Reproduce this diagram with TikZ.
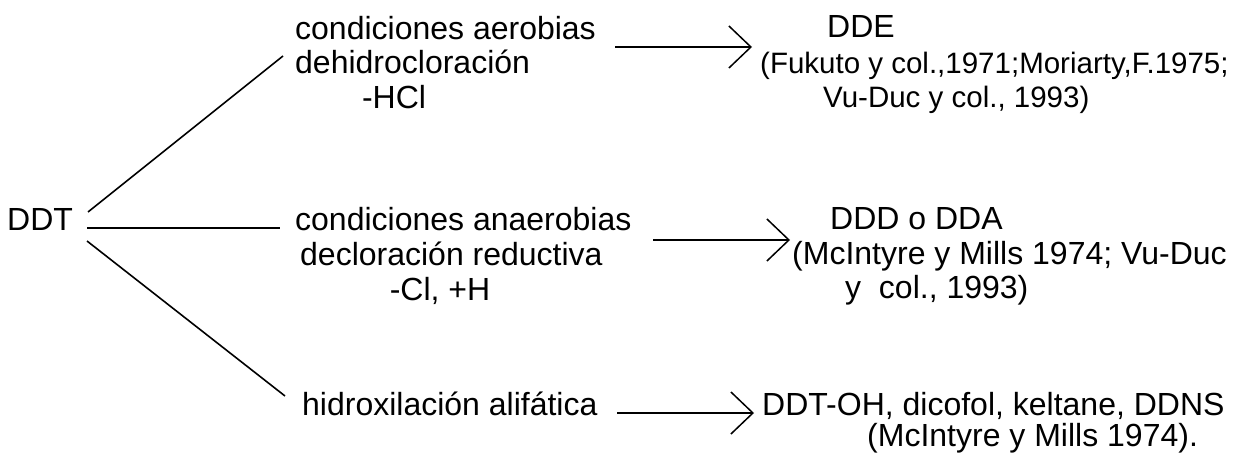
\documentclass[tikz,border=0pt]{standalone}
\usepackage{fontspec}
\setmainfont{Liberation Sans}
\usetikzlibrary{arrows.meta}
\begin{document}
\begin{tikzpicture}[x=1pt,y=-1pt,
  txt/.style={inner sep=0pt,font=\fontsize{32}{32}\selectfont},
  cit/.style={inner sep=0pt,font=\fontsize{29.5}{30}\selectfont},
  branch/.style={line width=1.6pt},
  reac/.style={line width=1.7pt,-{Straight Barb[length=22pt,width=42pt,line width=1.5pt]}}]
\useasboundingbox (0,0) rectangle (1246,457);
% source
\node[txt,anchor=base west] (ddt) at (7,230) {DDT};
\coordinate (s1) at (88,212);
\coordinate (s2) at (87,228);
\coordinate (s3) at (87,241);
% aerobic
\node[txt,anchor=base west] (a1) at (295,40) {condiciones aerobias};
\node[txt,anchor=base west] (a2) at (295,74) {dehidrocloración};
\node[txt,anchor=base] (a3) at (394,109) {-HCl};
\coordinate (e1) at (283,56);
\draw[branch] (s1) -- (e1);
\coordinate (r1a) at (615,47);
\coordinate (r1b) at (752,47);
\draw[reac] (r1a) -- (r1b);
\node[txt,anchor=base] (p1) at (861,38) {DDE};
\node[cit,anchor=base west] (c1a) at (760,74) {(Fukuto y col.,1971;Moriarty,F.1975;};
\node[cit,anchor=base west] (c1b) at (823,108) {Vu-Duc y col., 1993)};
% anaerobic
\node[txt,anchor=base west] (b1) at (295,230) {condiciones anaerobias};
\node[txt,anchor=base west] (b2) at (300,265) {decloración reductiva};
\node[txt,anchor=base] (b3) at (440,300) {-Cl, +H};
\coordinate (e2) at (280,228);
\draw[branch] (s2) -- (e2);
\coordinate (r2a) at (653,240);
\coordinate (r2b) at (790,240);
\draw[reac] (r2a) -- (r2b);
\node[txt,anchor=base west] (p2) at (830,229) {DDD o DDA};
\node[txt,anchor=base west] (c2a) at (792,264) {(McIntyre y Mills 1974; Vu-Duc};
\node[txt,anchor=base west] (c2b) at (845,298) {y\ \ col., 1993)};
% hydroxylation
\node[txt,anchor=base west] (h1) at (302,415) {hidroxilación alifática};
\coordinate (e3) at (285,396);
\draw[branch] (s3) -- (e3);
\coordinate (r3a) at (617,413);
\coordinate (r3b) at (754,413);
\draw[reac] (r3a) -- (r3b);
\node[txt,anchor=base west] (p3) at (762,415) {DDT-OH, dicofol, keltane, DDNS};
\node[txt,anchor=base west] (c3) at (867,446) {(McIntyre y Mills 1974).};
\end{tikzpicture}
\end{document}
